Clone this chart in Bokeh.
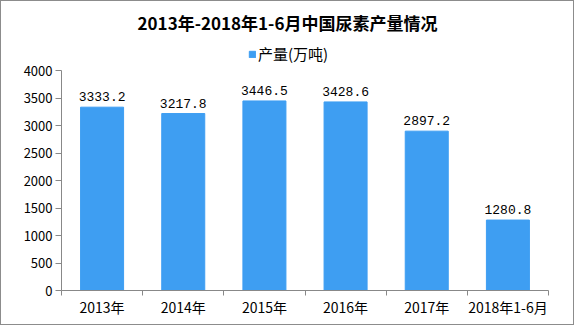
from bokeh.plotting import figure
from bokeh.models import (ColumnDataSource, LabelSet, Legend, LegendItem, FixedTicker,
                          Range1d, LinearAxis, Label)
from bokeh.core.properties import value
from bokeh.embed import file_html
from bokeh.resources import INLINE

title_text = "2013年-2018年1-6月中国尿素产量情况"
series_name = "产量(万吨)"
categories = ["2013年", "2014年", "2015年", "2016年", "2017年", "2018年1-6月"]
values = [3333.2, 3217.8, 3446.5, 3428.6, 2897.2, 1280.8]
value_labels = ["3333.2", "3217.8", "3446.5", "3428.6", "2897.2", "1280.8"]
y_ticks = [0, 500, 1000, 1500, 2000, 2500, 3000, 3500, 4000]

FONT = "Noto Sans CJK SC"
MONO = "Liberation Mono"
BLUE = "#3E9EF2"

# layout (canvas pixels)
H, W = 325, 574
LEFT, RIGHT = 60, 27
TOP_PAD = 69          # pixels above the 4000 line
FRAME_H = 289
y_max = 4000
units_per_px = y_max / (FRAME_H - TOP_PAD)
y_end = y_max + TOP_PAD * units_per_px
cat_px = (W - LEFT - RIGHT) / len(categories)

xs = [i + 0.5 for i in range(len(categories))]
src = ColumnDataSource(dict(x=xs, top=values, lab=value_labels))

p = figure(width=W, height=H, output_backend="svg", toolbar_location=None,
           x_range=Range1d(0, len(categories)), y_range=Range1d(0, y_end),
           x_axis_location=None, y_axis_location=None,
           min_border_left=LEFT, min_border_right=RIGHT, min_border_bottom=H - FRAME_H,
           min_border_top=0)
p.styles = {"border": "1px solid #8c8c8c"}
p.background_fill_color = "white"
p.border_fill_color = "white"
p.outline_line_color = None
p.grid.grid_line_color = None

r = p.vbar(x="x", top="top", width=0.53, source=src, color=BLUE)

xaxis = LinearAxis(ticker=FixedTicker(ticks=xs, minor_ticks=list(range(len(categories) + 1))),
                   major_label_overrides={x: c for x, c in zip(xs, categories)})
xaxis.major_tick_line_color = None
xaxis.minor_tick_line_color = "#888888"
xaxis.minor_tick_in = 0
xaxis.minor_tick_out = 5
xaxis.axis_line_color = "#888888"
xaxis.major_label_text_font = FONT
xaxis.major_label_text_font_size = "14px"
xaxis.major_label_text_color = "#000000"
xaxis.major_label_standoff = 0
p.add_layout(xaxis, "below")

yaxis = LinearAxis(ticker=FixedTicker(ticks=y_ticks), bounds=(0, y_max))
yaxis.minor_tick_line_color = None
yaxis.major_tick_line_color = "#888888"
yaxis.major_tick_in = 0
yaxis.major_tick_out = 6
yaxis.axis_line_color = "#888888"
yaxis.major_label_text_font = FONT
yaxis.major_label_text_font_size = "13px"
yaxis.major_label_text_color = "#000000"
yaxis.major_label_standoff = 3
p.add_layout(yaxis, "left")

labels = LabelSet(x="x", y="top", text="lab", source=src, text_align="center",
                  text_baseline="alphabetic", y_offset=6, text_font=value(MONO),
                  text_font_size=value("13px"), text_color=value("#000000"))
p.add_layout(labels)

title = Label(x=(287 - 1 - LEFT) / cat_px,
              y=y_max + (TOP_PAD - 21) * units_per_px,
              text=title_text, text_align="center", text_baseline="middle",
              text_font=FONT, text_font_size="17px", text_font_style="bold",
              text_color="#000000")
p.add_layout(title)

legend = Legend(items=[LegendItem(label=series_name, renderers=[r])],
                orientation="horizontal", location=(187, 226),
                label_text_font=FONT, label_text_font_size="15px",
                label_text_color="#000000",
                glyph_width=8, glyph_height=8, border_line_color=None,
                background_fill_alpha=0, padding=0, margin=0, label_standoff=2,
                label_height=16)
p.add_layout(legend)

open("out.html", "w").write(file_html(p, INLINE))
